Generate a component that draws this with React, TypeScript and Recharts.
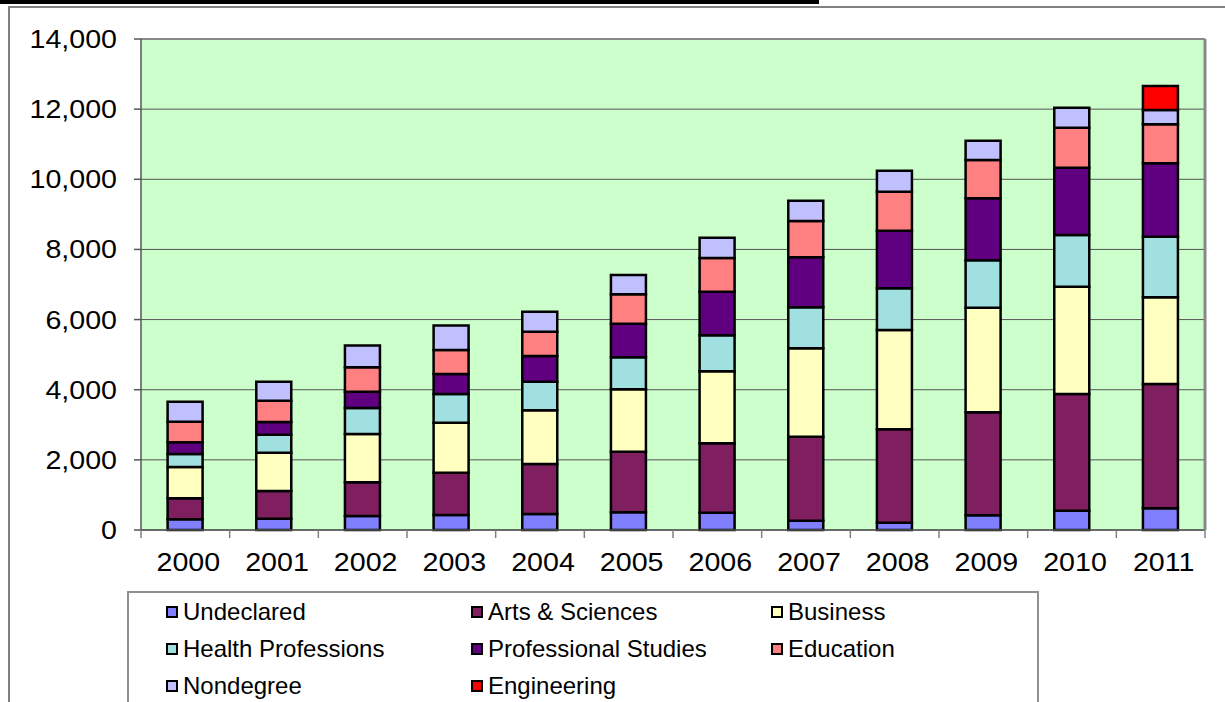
import React from 'react';
import { BarChart, Bar, XAxis, YAxis, CartesianGrid, Legend, ReferenceLine } from 'recharts';

const years = ['2000', '2001', '2002', '2003', '2004', '2005', '2006', '2007', '2008', '2009', '2010', '2011'];
const undeclared = [305, 323, 400, 430, 456, 504, 494, 265, 208, 418, 550, 619];
const artsSciences = [599, 789, 965, 1200, 1426, 1728, 1977, 2395, 2663, 2938, 3327, 3543];
const business = [892, 1092, 1370, 1430, 1529, 1779, 2053, 2520, 2831, 2982, 3060, 2472];
const healthProfessions = [371, 513, 745, 820, 818, 913, 1027, 1169, 1188, 1351, 1474, 1728];
const professionalStudies = [333, 362, 460, 570, 732, 958, 1244, 1426, 1644, 1768, 1918, 2093];
const education = [588, 608, 700, 680, 693, 838, 960, 1035, 1111, 1092, 1141, 1112];
const nondegree = [570, 541, 620, 700, 570, 550, 579, 580, 599, 550, 570, 407];
const engineering = [null, null, null, null, null, null, null, null, null, null, null, 684];
const yTicks = [0, 2000, 4000, 6000, 8000, 10000, 12000, 14000];

const series = [
  { key: 'undeclared', name: 'Undeclared', color: '#8080FF', values: undeclared },
  { key: 'arts', name: 'Arts & Sciences', color: '#7F1F5F', values: artsSciences },
  { key: 'business', name: 'Business', color: '#FFFFC0', values: business },
  { key: 'health', name: 'Health Professions', color: '#A0E0E0', values: healthProfessions },
  { key: 'prof', name: 'Professional Studies', color: '#600080', values: professionalStudies },
  { key: 'edu', name: 'Education', color: '#FF8080', values: education },
  { key: 'nondeg', name: 'Nondegree', color: '#C0C0FF', values: nondegree },
  { key: 'eng', name: 'Engineering', color: '#FF0000', values: engineering },
];

const data = years.map((y, i) => {
  const row: any = { year: y };
  series.forEach((s) => { row[s.key] = s.values[i]; });
  return row;
});

const W = 1225;
const H = 702;
const PLOT_LEFT = 141;
const PLOT_RIGHT = 1205;
const PLOT_TOP = 39;
const PLOT_BOTTOM = 530;
const HALF_BAND = (PLOT_RIGHT - PLOT_LEFT) / years.length / 2;
const FONT = '"Liberation Sans", Arial, sans-serif';
const AXIS_FONT_SIZE = 26;
const STRETCH = 1.1;

const XTick = (props: any) => {
  const { x, payload, index } = props;
  const tx = x + 3;
  const ty = PLOT_BOTTOM + 32;
  return (
    <g>
      <line x1={x - HALF_BAND} x2={x - HALF_BAND} y1={PLOT_BOTTOM} y2={PLOT_BOTTOM + 8} stroke="#808080" strokeWidth={1.5} />
      {index === years.length - 1 && (
        <line x1={x + HALF_BAND} x2={x + HALF_BAND} y1={PLOT_BOTTOM} y2={PLOT_BOTTOM + 8} stroke="#808080" strokeWidth={1.5} />
      )}
      <text
        x={0}
        y={0}
        transform={`translate(${tx},${ty}) scale(${STRETCH},1)`}
        textAnchor="middle"
        dominantBaseline="central"
        fontFamily={FONT}
        fontSize={AXIS_FONT_SIZE}
        fill="#000"
      >
        {payload.value}
      </text>
    </g>
  );
};

const YTick = (props: any) => {
  const { y, payload } = props;
  const tx = PLOT_LEFT - 24;
  return (
    <text
      x={0}
      y={0}
      transform={`translate(${tx},${y}) scale(${STRETCH},1)`}
      textAnchor="end"
      dominantBaseline="central"
      fontFamily={FONT}
      fontSize={AXIS_FONT_SIZE}
      fill="#000"
    >
      {Number(payload.value).toLocaleString('en-US')}
    </text>
  );
};

const renderLegend = () => {
  return (
    <div
      style={{
        boxSizing: 'border-box',
        width: '100%',
        height: '100%',
        border: '2px solid #909090',
        background: '#fff',
        paddingLeft: 37,
        paddingTop: 0,
        display: 'grid',
        gridTemplateColumns: '305px 300px 250px',
        gridAutoRows: '37px',
        fontFamily: FONT,
        fontSize: 24,
        color: '#000',
      }}
    >
      {series.map((s) => (
        <div key={s.key} style={{ display: 'flex', alignItems: 'center', whiteSpace: 'nowrap' }}>
          <span
            style={{
              display: 'inline-block',
              boxSizing: 'border-box',
              width: 12,
              height: 12,
              border: '2px solid #000',
              background: s.color,
              marginRight: 5,
            }}
          />
          <span>{s.name}</span>
        </div>
      ))}
    </div>
  );
};

export default function App() {
  return (
    <div style={{ position: 'absolute', left: 0, top: 0, width: W, height: H, overflow: 'hidden', background: '#fff' }}>
      <div style={{ position: 'absolute', left: 0, top: 0, width: 819, height: 4, background: '#000' }} />
      <div style={{ position: 'absolute', left: 8, top: 6, width: W - 8, height: 2, background: '#808080' }} />
      <div style={{ position: 'absolute', left: 8, top: 6, width: 2, height: H, background: '#808080' }} />
      <div style={{ position: 'absolute', left: 0, top: 0 }}>
        <BarChart
          width={W}
          height={H}
          data={data}
          margin={{ top: PLOT_TOP, right: 0, left: 0, bottom: 0 }}
          barCategoryGap="30%"
        >
          <CartesianGrid vertical={false} fill="#CCFFCC" stroke="#555" strokeWidth={1} />
          <XAxis
            dataKey="year"
            height={H - PLOT_BOTTOM}
            tickLine={false}
            axisLine={{ stroke: '#555', strokeWidth: 1.5 }}
            tick={<XTick />}
            interval={0}
          />
          <YAxis
            width={PLOT_LEFT}
            domain={[0, 14000]}
            ticks={yTicks}
            tickSize={7}
            tickLine={{ stroke: '#555', strokeWidth: 1.5 }}
            axisLine={{ stroke: '#555', strokeWidth: 1.5 }}
            tick={<YTick />}
            interval={0}
          />
          <YAxis
            yAxisId="right"
            orientation="right"
            width={W - PLOT_RIGHT}
            domain={[0, 14000]}
            tick={false}
            tickLine={false}
            axisLine={{ stroke: '#888', strokeWidth: 3 }}
          />
          <ReferenceLine y={14000} stroke="#888" strokeWidth={2} />
          {series.map((s) => (
            <Bar
              key={s.key}
              dataKey={s.key}
              name={s.name}
              stackId="a"
              fill={s.color}
              stroke="#000"
              strokeWidth={2.5}
              isAnimationActive={false}
            />
          ))}
          <Legend
            layout="vertical"
            verticalAlign="middle"
            align="center"
            content={renderLegend}
            wrapperStyle={{ position: 'absolute', left: 127, top: 591, width: 912, height: 120 }}
          />
        </BarChart>
      </div>
    </div>
  );
}
